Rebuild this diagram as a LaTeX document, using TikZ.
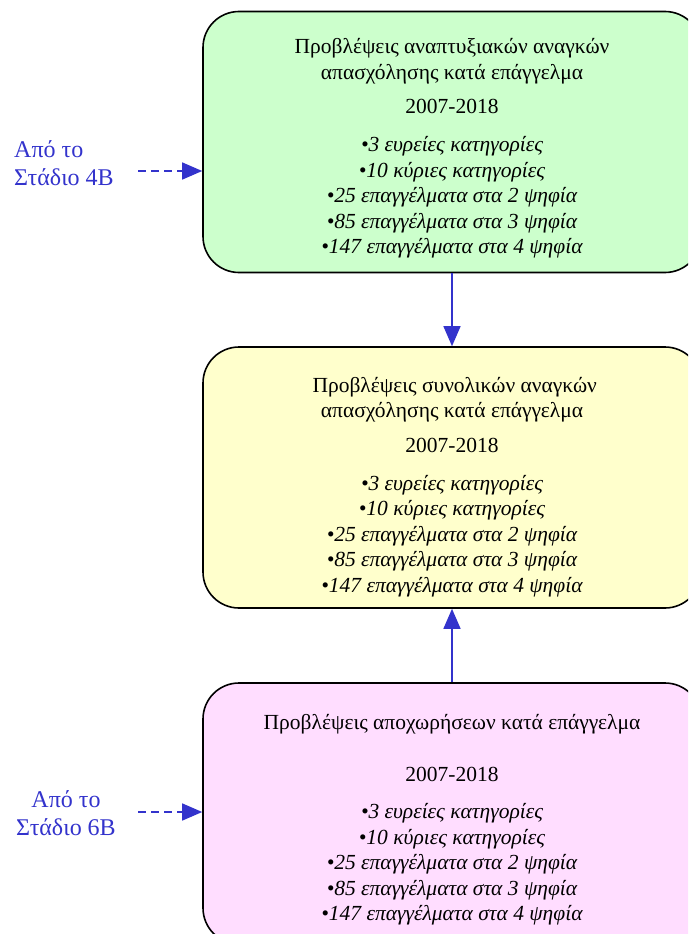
\documentclass[tikz,border=0pt]{standalone}
\usepackage{fontspec}
\setmainfont{Liberation Serif}
\usetikzlibrary{arrows.meta,positioning}
\definecolor{mintgreen}{HTML}{CCFFCC}
\definecolor{paleyellow}{HTML}{FFFFCC}
\definecolor{palepink}{HTML}{FFDDFF}
\definecolor{arrowblue}{HTML}{3333CC}
\newcommand{\toppad}[1][28pt]{\rule{0pt}{#1}}

\tikzset{
  stagebox/.style={draw=black, line width=1.6pt, rounded corners=36pt,
    minimum width=498pt, minimum height=261pt, align=center,
    font=\fontsize{21.5}{25.5}\selectfont, inner sep=0pt},
  fromlabel/.style={text=arrowblue, font=\fontsize{24}{28}\selectfont, inner sep=0pt},
  flow/.style={draw=arrowblue, line width=1.4pt, -{Triangle[length=20pt, width=17pt]}},
  feed/.style={flow, dash pattern=on 8pt off 5pt}
}

\begin{document}
\begin{tikzpicture}[x=1pt, y=-1pt]
  \useasboundingbox (0,0) rectangle (688,934);
  \clip (0,0) rectangle (688,934);

  \node[stagebox, fill=mintgreen] (anaptyxiakes) at (452,142) {%
    \toppad Προβλέψεις αναπτυξιακών αναγκών\\
    απασχόλησης κατά επάγγελμα\\[9pt]
    2007-2018\\[12.5pt]
    \itshape •3 ευρείες κατηγορίες\\
    \itshape •10 κύριες κατηγορίες\\
    \itshape •25 επαγγέλματα στα 2 ψηφία\\
    \itshape •85 επαγγέλματα στα 3 ψηφία\\
    \itshape •147 επαγγέλματα στα 4 ψηφία};

  \node[stagebox, fill=paleyellow] (synolikes) at (452,477.5) {%
    \toppad[34pt] Προβλέψεις συνολικών αναγκών\\
    απασχόλησης κατά επάγγελμα\\[9pt]
    2007-2018\\[12.5pt]
    \itshape •3 ευρείες κατηγορίες\\
    \itshape •10 κύριες κατηγορίες\\
    \itshape •25 επαγγέλματα στα 2 ψηφία\\
    \itshape •85 επαγγέλματα στα 3 ψηφία\\
    \itshape •147 επαγγέλματα στα 4 ψηφία};

  \node[stagebox, fill=palepink] (apochoriseis) at (452,813.5) {%
    \toppad Προβλέψεις αποχωρήσεων κατά επάγγελμα\\[26pt]
    2007-2018\\[12pt]
    \itshape •3 ευρείες κατηγορίες\\
    \itshape •10 κύριες κατηγορίες\\
    \itshape •25 επαγγέλματα στα 2 ψηφία\\
    \itshape •85 επαγγέλματα στα 3 ψηφία\\
    \itshape •147 επαγγέλματα στα 4 ψηφία};

  % inputs from the other stages
  \node[fromlabel, align=left, anchor=west] (stadio4) at (14,163) {Από το\\Στάδιο 4Β};
  \node[fromlabel, align=center] (stadio6) at (66,813.5) {Από το\\Στάδιο 6Β};
  \coordinate (apo4) at (138,171);
  \coordinate (apo6) at (138,812);

  \draw[feed] (apo4) -- (apo4 -| anaptyxiakes.west);
  \draw[feed] (apo6) -- (apo6 -| apochoriseis.west);

  \draw[flow] (anaptyxiakes) -- (synolikes);
  \draw[flow] (apochoriseis) -- (synolikes);
\end{tikzpicture}
\end{document}
